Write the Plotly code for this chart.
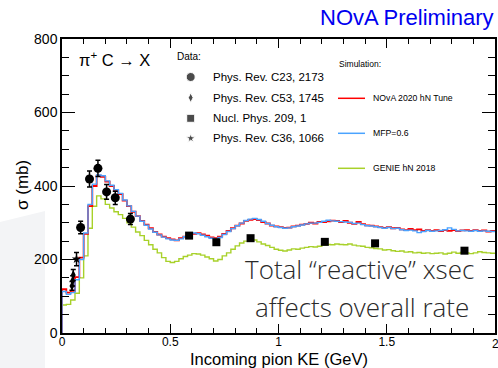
import plotly.graph_objects as go

# ---------------- data ----------------
bin_width = 0.02
bin_starts = [round(i * bin_width, 2) for i in range(100)]

nova2020 = [119, 110, 115, 152, 205, 270, 345, 400, 428, 425,
            412, 400, 388, 378, 360, 345, 330, 318, 305, 295,
            285, 275, 268, 262, 258, 255, 252, 258, 262, 265,
            270, 272, 268, 265, 260, 258, 262, 270, 278, 285,
            292, 298, 305, 308, 310, 307, 302, 298, 292, 290,
            288, 286, 287, 290, 292, 295, 297, 300, 298, 302,
            302, 304, 306, 305, 302, 305, 300, 297, 302, 296,
            293, 292, 290, 288, 286, 288, 285, 286, 282, 280,
            283, 280, 282, 278, 280, 278, 280, 277, 280, 278,
            280, 277, 279, 280, 278, 280, 278, 279, 276, 278]

mfp06 = [113, 105, 110, 145, 200, 272, 350, 405, 430, 428,
         414, 402, 390, 380, 362, 346, 331, 318, 304, 293,
         283, 274, 267, 261, 256, 253, 252, 256, 262, 268,
         272, 270, 266, 262, 258, 255, 260, 268, 276, 284,
         292, 299, 306, 310, 312, 309, 304, 298, 293, 289,
         287, 285, 286, 289, 291, 294, 297, 299, 299, 301,
         304, 307, 305, 304, 303, 302, 301, 298, 299, 295,
         292, 291, 289, 287, 285, 287, 284, 285, 281, 279,
         280, 278, 273, 276, 279, 277, 278, 279, 281, 286,
         282, 278, 279, 278, 277, 279, 277, 278, 277, 276]

genie2018 = [76, 78, 90, 108, 150, 210, 285, 345, 373, 365,
             350, 340, 330, 322, 312, 300, 288, 275, 265, 252,
             240, 228, 218, 205, 195, 192, 195, 202, 208, 212,
             216, 215, 212, 207, 202, 196, 200, 210, 218, 228,
             237, 245, 250, 255, 253, 248, 242, 238, 233, 228,
             225, 223, 226, 229, 228, 231, 233, 235, 234, 236,
             239, 241, 240, 242, 241, 240, 242, 239, 237, 236,
             233, 232, 230, 229, 226, 227, 224, 222, 223, 220,
             221, 218, 219, 217, 218, 216, 217, 218, 215, 217,
             220, 217, 219, 218, 216, 218, 221, 219, 218, 217]

c23_x = [0.086, 0.127, 0.166, 0.206, 0.246, 0.316]
c23_y = [287, 419, 448, 384, 368, 310]
c23_err = [17, 22, 22, 20, 18, 15]

c53_x = [0.046, 0.049, 0.052]
c53_y = [128, 142, 158]
c53_err = [12, 14, 15]

np209_x = [0.587, 0.713, 0.871, 1.214, 1.446, 1.859]
np209_y = [265, 247, 258, 248, 244, 224]

c36_x = [0.067]
c36_y = [201]
c36_err = [18]

x_ticks = [0, 0.5, 1, 1.5, 2]
y_ticks = [0, 200, 400, 600, 800]

data_labels = ["Phys. Rev. C23, 2173", "Phys. Rev. C53, 1745",
               "Nucl. Phys. 209, 1", "Phys. Rev. C36, 1066"]
sim_labels = ["NOvA 2020 hN Tune", "MFP=0.6", "GENIE hN 2018"]

# ---------------- styling ----------------
FONT = "Liberation Sans, Arial, Helvetica, sans-serif"
RED = "#ff0000"
BLUE = "#4aa3ff"
GREEN = "#a8d12a"

W, H = 498, 368
L, R, T, B = 62, 495, 39, 333


def pxx(x):
    return (x - L) / (R - L)


def pxy(y):
    return (B - y) / (B - T)


def step_xy(vals):
    xs = [0.0] + bin_starts + [2.0]
    ys = [0.0] + vals + [vals[-1]]
    return xs, ys


fig = go.Figure()

for vals, col, w in [(genie2018, GREEN, 1.4), (nova2020, RED, 1.8), (mfp06, BLUE, 1.4)]:
    xs, ys = step_xy(vals)
    fig.add_trace(go.Scatter(x=xs, y=ys, mode="lines", line=dict(color=col, width=w, shape="hv"),
                             showlegend=False, hoverinfo="skip"))

err_style = dict(type="data", thickness=1.5, width=2.5, color="black")
fig.add_trace(go.Scatter(x=c53_x, y=c53_y, mode="markers",
                         marker=dict(symbol="diamond-tall", size=7, color="black"),
                         error_y=dict(array=c53_err, **err_style), showlegend=False))
fig.add_trace(go.Scatter(x=c36_x, y=c36_y, mode="markers",
                         marker=dict(symbol="star", size=7, color="black"),
                         error_y=dict(array=c36_err, **err_style), showlegend=False))
fig.add_trace(go.Scatter(x=c23_x, y=c23_y, mode="markers",
                         marker=dict(symbol="circle", size=9, color="black"),
                         error_y=dict(array=c23_err, **err_style), showlegend=False))
fig.add_trace(go.Scatter(x=np209_x, y=np209_y, mode="markers",
                         marker=dict(symbol="square", size=8, color="black"),
                         showlegend=False))

# ---- legend (drawn on pixel-mapped overlay axes) ----
leg_mk_x = 190.7
leg_rows = [77, 97.7, 118.3, 138.3]
leg_symbols = ["circle", "diamond-tall", "square", "star"]
leg_sizes = [9, 7, 8, 7]
fig.add_trace(go.Scatter(x=[leg_mk_x] * 4, y=leg_rows, mode="markers", xaxis="x2", yaxis="y2",
                         marker=dict(symbol=leg_symbols, size=leg_sizes, color="black"),
                         showlegend=False, hoverinfo="skip"))
sim_rows = [98.3, 133.3, 168.3]
for yy, col in zip(sim_rows, [RED, BLUE, GREEN]):
    fig.add_trace(go.Scatter(x=[338, 365], y=[yy, yy], mode="lines", xaxis="x2", yaxis="y2",
                             line=dict(color=col, width=1.5), showlegend=False, hoverinfo="skip"))

ann = []
ann.append(dict(x=pxx(175), y=pxy(57), xref="paper", yref="paper", text="Data:", showarrow=False,
                xanchor="left", yanchor="middle", font=dict(family=FONT, size=10, color="black")))
for lbl, yy in zip(data_labels, leg_rows):
    ann.append(dict(x=pxx(211), y=pxy(yy), xref="paper", yref="paper", text=lbl, showarrow=False,
                    xanchor="left", yanchor="middle", font=dict(family=FONT, size=11.5, color="black")))
ann.append(dict(x=pxx(336.5), y=pxy(63.5), xref="paper", yref="paper", text="Simulation:", showarrow=False,
                xanchor="left", yanchor="middle", font=dict(family=FONT, size=8.5, color="black")))
for lbl, yy in zip(sim_labels, sim_rows):
    ann.append(dict(x=pxx(370.5), y=pxy(yy), xref="paper", yref="paper", text=lbl, showarrow=False,
                    xanchor="left", yanchor="middle", font=dict(family=FONT, size=8.7, color="black")))

ann.append(dict(x=pxx(77), y=pxy(58.5), xref="paper", yref="paper", text="π<sup>+</sup> C → X",
                showarrow=False, xanchor="left", yanchor="middle",
                font=dict(family=FONT, size=16.5, color="black")))
ann.append(dict(x=pxx(496), y=pxy(17.5), xref="paper", yref="paper", text="NOvA Preliminary",
                showarrow=False, xanchor="right", yanchor="middle",
                font=dict(family=FONT, size=22, color="#0000f0")))
ann.append(dict(x=pxx(279), y=pxy(359), xref="paper", yref="paper", text="Incoming pion KE (GeV)",
                showarrow=False, xanchor="center", yanchor="middle", borderpad=0,
                font=dict(family=FONT, size=16.5, color="black")))
ann.append(dict(x=pxx(22), y=pxy(185), xref="paper", yref="paper", text="σ (mb)", textangle=-90,
                showarrow=False, xanchor="center", yanchor="middle",
                font=dict(family=FONT, size=17, color="black")))
ann.append(dict(x=pxx(359), y=pxy(268.5), xref="paper", yref="paper", text="Total “reactive” xsec",
                showarrow=False, xanchor="center", yanchor="middle",
                font=dict(family="Open Sans", size=26, color="#2a2a2a", weight=300)))
ann.append(dict(x=pxx(362), y=pxy(307), xref="paper", yref="paper", text="affects overall rate",
                showarrow=False, xanchor="center", yanchor="middle",
                font=dict(family="Open Sans", size=26, color="#2a2a2a", weight=300)))
# x tick label at the right edge (partially cut by the window, as in the reference)
ann.append(dict(x=1.0, y=0, xref="paper", yref="paper", text=str(x_ticks[-1]), showarrow=False,
                xanchor="center", yanchor="top", yshift=-2,
                font=dict(family=FONT, size=12, color="black")))

shapes = [dict(type="path", xref="paper", yref="paper", layer="below",
               path=f"M {pxx(0)},{pxy(222)} L {pxx(45)},{pxy(211)} L {pxx(45)},{pxy(368)} L {pxx(0)},{pxy(368)} Z",
               fillcolor="#f3f4f6", line=dict(width=0))]

axis_common = dict(showgrid=False, zeroline=False, showline=True, linecolor="black", linewidth=1.5,
                   mirror=True, ticks="inside", tickcolor="black", tickwidth=1, automargin=False)

fig.update_layout(
    width=W, height=H,
    margin=dict(l=L, r=W - R, t=T, b=H - B, pad=0),
    paper_bgcolor="white", plot_bgcolor="rgba(0,0,0,0)",
    xaxis=dict(range=[0, 2], tickvals=x_ticks[:-1], ticktext=[str(v) for v in x_ticks[:-1]], ticklen=9,
               tickfont=dict(family=FONT, size=12, color="black"), ticklabelstandoff=-3,
               minor=dict(dtick=0.1, ticklen=5, ticks="inside", tickcolor="black"), **axis_common),
    yaxis=dict(range=[0, 800], tickvals=y_ticks, ticktext=[str(v) for v in y_ticks], ticklen=13,
               tickfont=dict(family=FONT, size=14, color="black"),
               minor=dict(dtick=50, ticklen=7, ticks="inside", tickcolor="black"), **axis_common),
    xaxis2=dict(range=[L, R], overlaying="x", visible=False, anchor="y2"),
    yaxis2=dict(range=[B, T], overlaying="y", visible=False, anchor="x2"),
    xaxis3=dict(range=[0, 2], overlaying="x", side="top", anchor="y", showgrid=False, zeroline=False,
                showline=False, showticklabels=False, ticks="inside", tickvals=x_ticks, ticklen=9,
                tickcolor="black", minor=dict(dtick=0.1, ticklen=5, ticks="inside", tickcolor="black")),
    yaxis3=dict(range=[0, 800], overlaying="y", side="right", anchor="x", showgrid=False, zeroline=False,
                showline=False, showticklabels=False, ticks="inside", tickvals=y_ticks, ticklen=13,
                tickcolor="black", minor=dict(dtick=50, ticklen=7, ticks="inside", tickcolor="black")),
    annotations=ann, shapes=shapes, showlegend=False,
)
# invisible traces that activate the tick-only overlay axes
fig.add_trace(go.Scatter(x=[0, 2], y=[0, 0], mode="lines", xaxis="x3", yaxis="y",
                         line=dict(width=0), showlegend=False, hoverinfo="skip"))
fig.add_trace(go.Scatter(x=[0, 2], y=[0, 0], mode="lines", xaxis="x", yaxis="y3",
                         line=dict(width=0), showlegend=False, hoverinfo="skip"))

fig.write_html("out.html")
